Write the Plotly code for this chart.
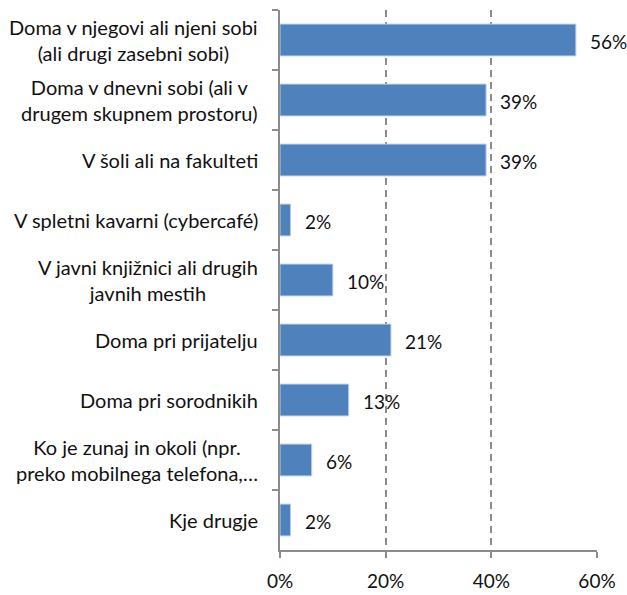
import plotly.graph_objects as go

categories = [
    "Doma v njegovi ali njeni sobi<br>(ali drugi zasebni sobi)",
    "Doma v dnevni sobi (ali v<br>drugem skupnem prostoru)",
    "V šoli ali na fakulteti",
    "V spletni kavarni (cybercafé)",
    "V javni knjižnici ali drugih<br>javnih mestih",
    "Doma pri prijatelju",
    "Doma pri sorodnikih",
    "Ko je zunaj in okoli (npr.<br>preko mobilnega telefona,…",
    "Kje drugje",
]
values = [56, 39, 39, 2, 10, 21, 13, 6, 2]
x_ticks = [0, 20, 40, 60]
x_tick_labels = ["0%", "20%", "40%", "60%"]

FONT = "Lato"
FS = 19
TXT = "#111111"
fig = go.Figure()
fig.add_trace(go.Bar(
    x=values, y=categories, orientation="h",
    marker=dict(color="#4F81BD", line=dict(color="#B9CDE5", width=1)),
    width=0.53,
    hoverinfo="skip",
))

annotations = []
for c, v in zip(categories, values):
    annotations.append(dict(
        x=v, y=c, xref="x", yref="y", text=f"{v}%", showarrow=False,
        xanchor="left", yanchor="middle", xshift=12, yshift=-1,
        font=dict(family=FONT, size=FS, color=TXT),
    ))
    annotations.append(dict(
        x=0, y=c, xref="paper", yref="y", text=c, showarrow=False,
        xanchor="right", yanchor="middle", align="center", xshift=-20,
        font=dict(family=FONT, size=20, color=TXT),
    ))

fig.update_layout(
    width=627, height=595,
    margin=dict(l=280, r=30, t=10, b=45),
    paper_bgcolor="white", plot_bgcolor="white",
    showlegend=False,
    annotations=annotations,
    font=dict(family=FONT, size=FS, color=TXT),
    xaxis=dict(
        range=[0, 60], tickvals=x_ticks, ticktext=x_tick_labels,
        showgrid=True, gridcolor="#8C8C8C", griddash="7px,5px", gridwidth=2,
        showline=True, linecolor="#8C8C8C", linewidth=2,
        ticks="outside", ticklen=6, tickcolor="#8C8C8C", tickwidth=2,
        ticklabelstandoff=7, automargin=False,
        zeroline=False, tickfont=dict(family=FONT, size=FS, color=TXT),
    ),
    yaxis=dict(
        autorange="reversed", showticklabels=False, automargin=False,
        showline=True, linecolor="#8C8C8C", linewidth=2,
        ticks="outside", ticklen=6, tickcolor="#8C8C8C", tickwidth=2,
        tickson="boundaries", showgrid=False,
    ),
)

fig.write_html("out.html", config={"displayModeBar": False},
               post_script="document.body.style.margin='0px';")
